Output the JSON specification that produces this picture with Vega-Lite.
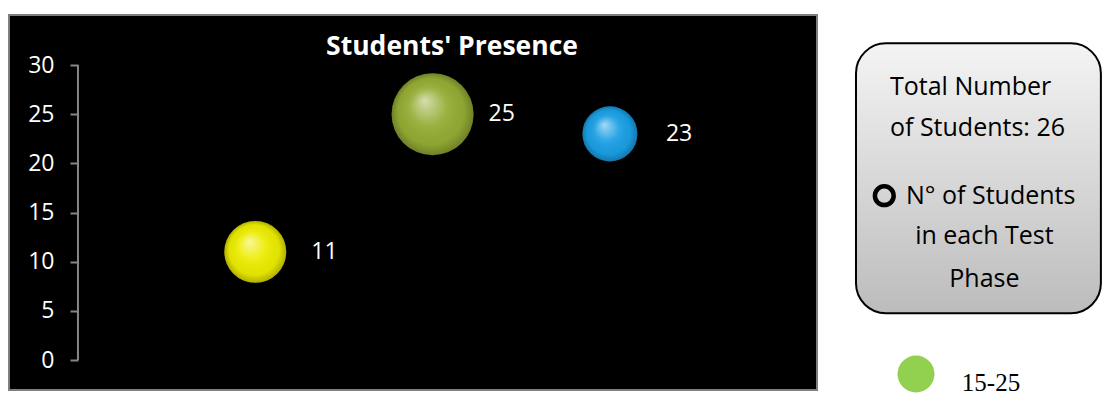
{
  "$schema": "https://vega.github.io/schema/vega-lite/v6.json",
  "background": "white",
  "padding": {"left": 8, "top": 14, "right": 0, "bottom": 0},
  "spacing": 22,
  "hconcat": [
    {
      "width": 808,
      "height": 375,
      "view": {"fill": "black", "stroke": "#7f7f7f", "strokeWidth": 2},
      "title": {
        "text": "Students' Presence",
        "color": "white",
        "font": "Open Sans",
        "fontSize": 26.5,
        "fontWeight": "bold",
        "anchor": "middle",
        "baseline": "alphabetic",
        "dx": 39,
        "offset": -66
      },
      "data": {
        "values": [
          {"phase": 1, "students": 11, "bubble": 57},
          {"phase": 2, "students": 25, "bubble": 100},
          {"phase": 3, "students": 23, "bubble": 45}
        ]
      },
      "layer": [
        {
          "data": {"values": [{}]},
          "mark": {"type": "rule", "color": "#868686", "strokeWidth": 2},
          "encoding": {
            "x": {"datum": 0, "type": "quantitative", "scale": {"domain": [-0.389, 4.168], "nice": false, "zero": false}, "axis": null},
            "y": {"datum": 0, "type": "quantitative", "scale": {"domain": [-3.05, 35.09], "nice": false, "zero": false}},
            "y2": {"datum": 30}
          }
        },
        {
          "mark": {"type": "point", "shape": "circle", "filled": true, "opacity": 1, "strokeWidth": 0},
          "encoding": {
            "x": {"field": "phase", "type": "quantitative", "scale": {"domain": [-0.389, 4.168], "nice": false, "zero": false}, "axis": null},
            "y": {
              "field": "students",
              "type": "quantitative",
              "scale": {"domain": [-3.05, 35.09], "nice": false, "zero": false},
              "axis": {
                "values": [0, 5, 10, 15, 20, 25, 30],
                "offset": -69,
                "domain": false,
                "grid": false,
                "ticks": true,
                "tickColor": "#868686",
                "tickWidth": 2,
                "tickSize": 8,
                "labelColor": "white",
                "labelFont": "Open Sans",
                "labelFontSize": 23,
                "labelPadding": 16,
                "title": null
              }
            },
            "size": {
              "field": "bubble",
              "type": "quantitative",
              "scale": {"domain": [0, 100], "range": [0, 6724]},
              "legend": null
            },
            "color": {
              "field": "phase",
              "type": "nominal",
              "scale": {"domain": [1, 2, 3], "range": ["#ecec00", "#94ac34", "#1a9fe4"]},
              "legend": null
            }
          }
        },
        {
          "mark": {
            "type": "point",
            "shape": "circle",
            "filled": true,
            "opacity": 1,
            "strokeWidth": 0,
            "fill": {
              "gradient": "radial",
              "x1": 0.4, "y1": 0.33, "r1": 0,
              "x2": 0.5, "y2": 0.5, "r2": 0.5,
              "stops": [
                {"offset": 0, "color": "rgba(255,255,255,0.6)"},
                {"offset": 0.45, "color": "rgba(255,255,255,0.08)"},
                {"offset": 0.8, "color": "rgba(0,0,0,0.04)"},
                {"offset": 1, "color": "rgba(0,0,0,0.25)"}
              ]
            }
          },
          "encoding": {
            "x": {"field": "phase", "type": "quantitative"},
            "y": {"field": "students", "type": "quantitative"},
            "size": {
              "field": "bubble",
              "type": "quantitative",
              "scale": {"domain": [0, 100], "range": [0, 6724]},
              "legend": null
            }
          }
        },
        {
          "mark": {
            "type": "text",
            "align": "left",
            "baseline": "middle",
            "dx": 56,
            "color": "white",
            "font": "Open Sans",
            "fontSize": 23
          },
          "encoding": {
            "x": {"field": "phase", "type": "quantitative"},
            "y": {"field": "students", "type": "quantitative"},
            "text": {"field": "students", "type": "quantitative"}
          }
        }
      ]
    },
    {
      "width": 263,
      "height": 375,
      "view": {"stroke": null},
      "data": {"values": [{}]},
      "layer": [
        {
          "mark": {"type": "rect", "cornerRadius": 30, "fill": "#000000", "opacity": 0.2, "xOffset": 3, "yOffset": 4},
          "encoding": {
            "x": {"datum": 6.08, "type": "quantitative", "scale": {"domain": [0, 100], "nice": false}, "axis": null},
            "x2": {"datum": 99.2},
            "y": {"datum": 92.45, "type": "quantitative", "scale": {"domain": [0, 100], "nice": false}, "axis": null},
            "y2": {"datum": 20.45}
          }
        },
        {
          "mark": {
            "type": "rect",
            "cornerRadius": 30,
            "stroke": "black",
            "strokeWidth": 2,
            "fill": {
              "gradient": "linear",
              "x1": 0, "y1": 0, "x2": 0, "y2": 1,
              "stops": [
                {"offset": 0, "color": "#f4f4f4"},
                {"offset": 1, "color": "#bcbcbc"}
              ]
            }
          },
          "encoding": {
            "x": {"datum": 6.08, "type": "quantitative", "scale": {"domain": [0, 100], "nice": false}, "axis": null},
            "x2": {"datum": 99.2},
            "y": {"datum": 92.45, "type": "quantitative", "scale": {"domain": [0, 100], "nice": false}, "axis": null},
            "y2": {"datum": 20.45}
          }
        },
        {
          "mark": {"type": "text", "align": "left", "baseline": "alphabetic", "font": "Open Sans", "fontSize": 25, "color": "black", "lineHeight": 41},
          "encoding": {
            "x": {"datum": 19.0, "type": "quantitative", "scale": {"domain": [0, 100], "nice": false}, "axis": null},
            "y": {"datum": 78.67, "type": "quantitative", "scale": {"domain": [0, 100], "nice": false}, "axis": null},
            "text": {"value": ["Total Number", "of Students: 26"]}
          }
        },
        {
          "mark": {"type": "point", "shape": "circle", "filled": false, "stroke": "black", "strokeWidth": 4.5, "opacity": 1},
          "encoding": {
            "x": {"datum": 16.84, "type": "quantitative", "scale": {"domain": [0, 100], "nice": false}, "axis": null},
            "y": {"datum": 51.81, "type": "quantitative", "scale": {"domain": [0, 100], "nice": false}, "axis": null},
            "size": {"value": 353}
          }
        },
        {
          "mark": {"type": "text", "align": "left", "baseline": "alphabetic", "font": "Open Sans", "fontSize": 25, "color": "black"},
          "encoding": {
            "x": {"datum": 25.1, "type": "quantitative", "scale": {"domain": [0, 100], "nice": false}, "axis": null},
            "y": {"datum": 49.6, "type": "quantitative", "scale": {"domain": [0, 100], "nice": false}, "axis": null},
            "text": {"value": "N° of Students"}
          }
        },
        {
          "mark": {"type": "text", "align": "center", "baseline": "alphabetic", "font": "Open Sans", "fontSize": 25, "color": "black", "lineHeight": 42.4},
          "encoding": {
            "x": {"datum": 54.9, "type": "quantitative", "scale": {"domain": [0, 100], "nice": false}, "axis": null},
            "y": {"datum": 38.85, "type": "quantitative", "scale": {"domain": [0, 100], "nice": false}, "axis": null},
            "text": {"value": ["in each Test", "Phase"]}
          }
        },
        {
          "mark": {"type": "point", "shape": "circle", "filled": true, "color": "#92d050", "opacity": 1, "strokeWidth": 0},
          "encoding": {
            "x": {"datum": 28.9, "type": "quantitative", "scale": {"domain": [0, 100], "nice": false}, "axis": null},
            "y": {"datum": 4.27, "type": "quantitative", "scale": {"domain": [0, 100], "nice": false}, "axis": null},
            "size": {"value": 1369}
          }
        },
        {
          "mark": {"type": "text", "align": "center", "baseline": "alphabetic", "font": "Liberation Serif", "fontSize": 25, "color": "black"},
          "encoding": {
            "x": {"datum": 57.4, "type": "quantitative", "scale": {"domain": [0, 100], "nice": false}, "axis": null},
            "y": {"datum": -0.3, "type": "quantitative", "scale": {"domain": [0, 100], "nice": false}, "axis": null},
            "text": {"value": "15-25"}
          }
        }
      ]
    }
  ]
}
